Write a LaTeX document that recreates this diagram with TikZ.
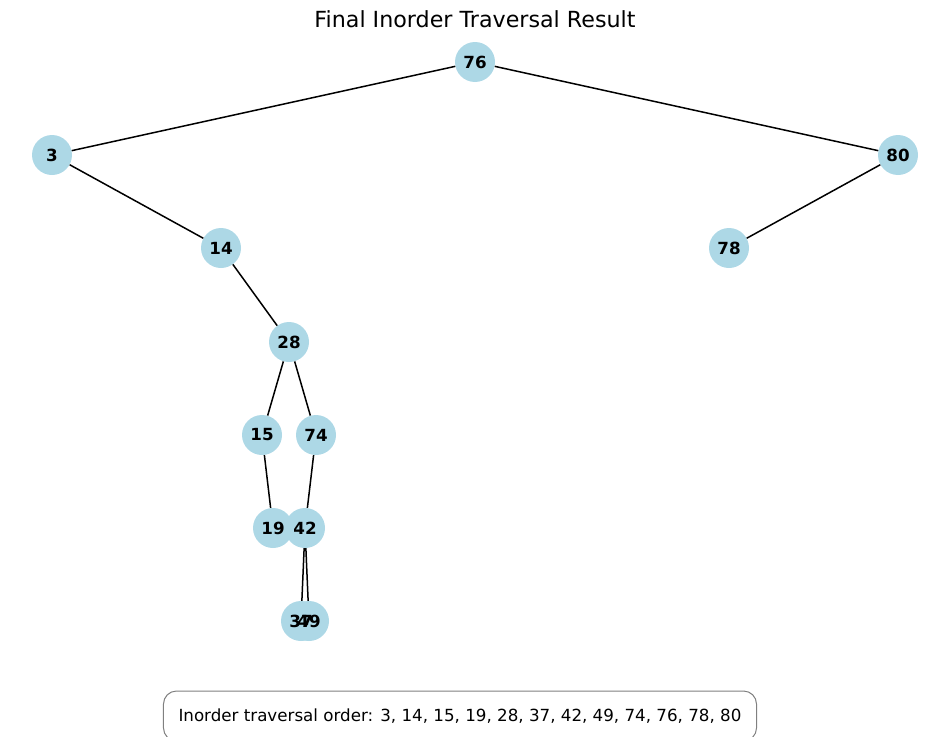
\documentclass[tikz,border=0pt]{standalone}
\usepackage{fontspec}
\setmainfont{DejaVu Sans}
\usepackage{tikz}

\definecolor{keyblue}{HTML}{ADD8E6}

\begin{document}
\begin{tikzpicture}
		[x=1pt,y=-1pt,
		 key/.style={circle,fill=keyblue,minimum size=40pt,inner sep=0pt},
		 keytext/.style={font=\fontsize{16.7}{19}\selectfont\bfseries},
		 link/.style={line width=1.5pt},
		 orderbox/.style={draw=gray,line width=1pt,rounded corners=13pt,inner xsep=15pt,minimum height=50pt,font=\fontsize{16.7}{19}\selectfont}]
			\useasboundingbox (0,0) rectangle (950,736);
			\clip (0,0) rectangle (950,736);
			\node [font=\fontsize{22.2}{26}\selectfont] (title) at (475,19) {Final Inorder Traversal Result};
			% search tree keys
			\node [key] (n76) at (475,62) {};
			\node [key] (n3) at (52,155) {};
			\node [key] (n80) at (898,155) {};
			\node [key] (n14) at (221,248) {};
			\node [key] (n78) at (729,248) {};
			\node [key] (n28) at (289,342) {};
			\node [key] (n15) at (262,435) {};
			\node [key] (n74) at (316,435) {};
			\node [key] (n19) at (273,528) {};
			\node [key] (n42) at (305,528) {};
			\node [key] (n37) at (301,621) {};
			\node [key] (n49) at (309,621) {};
			\foreach \a/\b in {76/3,76/80,3/14,80/78,14/28,28/15,28/74,15/19,74/42,42/37,42/49}
				\draw [link] (n\a) -- (n\b);
			\foreach \k in {76,3,80,14,78,28,15,74,19,42,37,49}
				\node [keytext] at (n\k) {\k};
			\node [orderbox] (order) at (460,716) {Inorder traversal order: 3, 14, 15, 19, 28, 37, 42, 49, 74, 76, 78, 80};
	\end{tikzpicture}
\end{document}
